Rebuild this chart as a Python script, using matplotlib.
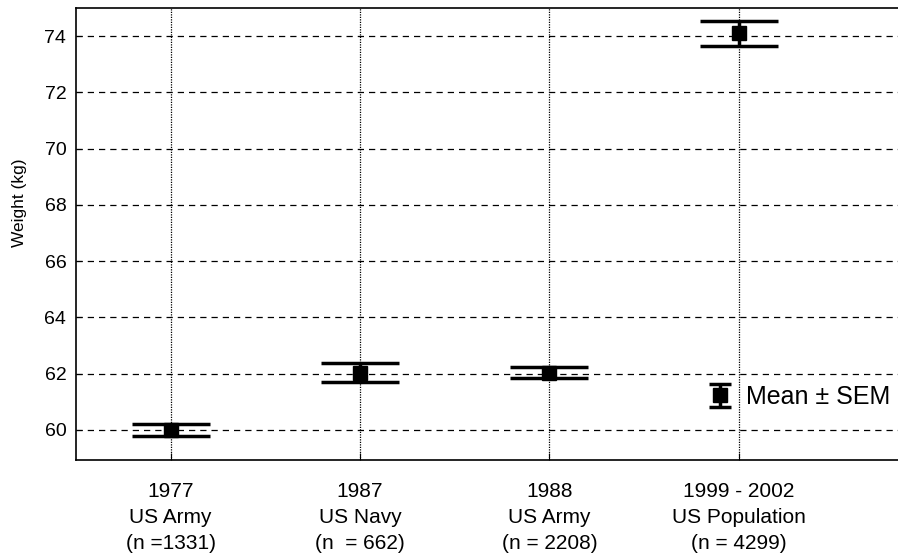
import numpy as np
import matplotlib
matplotlib.use("Agg")
import matplotlib.pyplot as plt
from matplotlib.legend_handler import HandlerErrorbar

# weight by survey group
groups = ["1977\nUS Army\n(n =1331)", "1987\nUS Navy\n(n  = 662)",
          "1988\nUS Army\n(n = 2208)", "1999 - 2002\nUS Population\n(n = 4299)"]
mean_kg = [60.0, 62.03, 62.03, 74.1]
sem_kg = [0.22, 0.34, 0.19, 0.44]
yticks = [60, 62, 64, 66, 68, 70, 72, 74]

plt.rcParams['font.family'] = ['Liberation Sans', 'DejaVu Sans']

fig = plt.figure(figsize=(8.98, 5.56), dpi=100)
ax = fig.add_axes([76 / 898, 1 - 460 / 556, 1 - 76 / 898 + 0.002, (460 - 8) / 556])

x = np.arange(1, len(groups) + 1)
ax.errorbar(x, mean_kg, yerr=sem_kg, fmt='s', color='black', ms=10,
            elinewidth=2.5, capsize=28, capthick=2.5, zorder=3)

# narrow-capped copy, off the visible range, used only for the legend key
key = ax.errorbar([0], [0], yerr=[1], fmt='s', color='black', ms=10,
                  elinewidth=2.5, capsize=8, capthick=2.5, label='Mean ± SEM')

ax.set_xlim(0.5, 4.85)
ax.set_ylim(58.93, 75.0)
ax.set_yticks(yticks)
ax.set_xticks(x)
ax.set_xticklabels(groups, linespacing=1.45, fontsize=15)
ax.tick_params(axis='y', labelsize=14, direction='in', length=4, pad=7)
ax.tick_params(axis='x', direction='in', length=5, pad=16)
ax.set_ylabel('Weight (kg)', fontsize=12.5)
ax.yaxis.set_label_coords(-0.059, 0.57)

for y in yticks:
    ax.axhline(y, color='black', lw=0.9, ls=(0, (5, 4)), zorder=1)
for xi in x:
    ax.axvline(xi, color='black', lw=0.9, ls=(0, (1, 1)), zorder=1)

ax.spines['right'].set_visible(False)
for s in ['left', 'top', 'bottom']:
    ax.spines[s].set_linewidth(1.2)

ax.legend(handles=[key], loc='center left', bbox_to_anchor=(0.766, 0.139),
          frameon=False, fontsize=18, handlelength=1.0, handletextpad=0.55,
          borderpad=0, borderaxespad=0,
          handler_map={type(key): HandlerErrorbar(xerr_size=0.45)})

fig.savefig('out.png', dpi=100)
